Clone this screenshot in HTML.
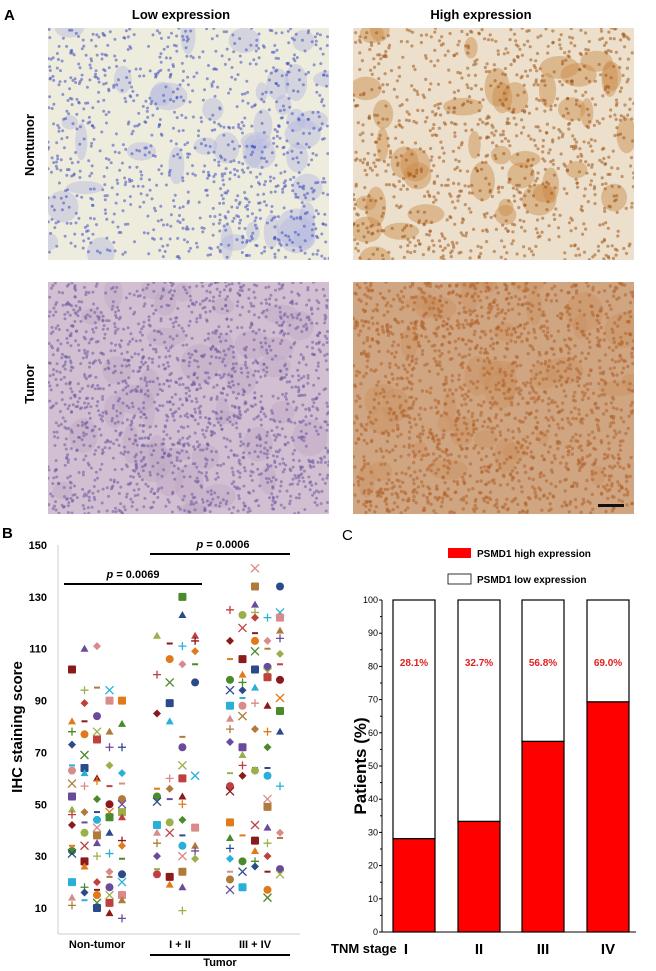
<!DOCTYPE html>
<html><head><meta charset="utf-8"><style>
body{margin:0;background:#fff;width:656px;height:971px;overflow:hidden;font-family:"Liberation Sans",Arial,sans-serif}
svg{position:absolute;left:0;top:0}
</style></head><body>
<svg id="fig" width="656" height="971" viewBox="0 0 656 971">
<defs id="defs"></defs>
<text x="4" y="20" font-size="15" font-weight="bold">A</text>
<text x="181" y="19" font-size="13" font-weight="bold" text-anchor="middle">Low expression</text>
<text x="481" y="19" font-size="13" font-weight="bold" text-anchor="middle">High expression</text>
<text transform="translate(34,145) rotate(-90)" font-size="13" font-weight="bold" text-anchor="middle">Nontumor</text>
<text transform="translate(34,384) rotate(-90)" font-size="13" font-weight="bold" text-anchor="middle">Tumor</text>
<g id="imgs"></g>
<rect x="598" y="504" width="26" height="3" fill="#111"/>

<text x="2" y="538" font-size="15" font-weight="bold">B</text>
<g id="chartB"></g>
<text x="342" y="540" font-size="15">C</text>
<g id="chartC"></g>
</svg>
<script>
const NS="http://www.w3.org/2000/svg";
function mk(t,a,p){const e=document.createElementNS(NS,t);for(const k in a)e.setAttribute(k,a[k]);p.appendChild(e);return e;}
// ---- histology images (textures) ----
let seed=7;function rnd(){seed=(seed*16807)%2147483647;return seed/2147483647;}
const imgs=document.getElementById('imgs');
const defs=document.getElementById('defs');
const panels=[
 {x:48,y:28,w:281,h:232,bg:"#eeecdc",dots:"#3f4fc0",n:1000,r:1.5,blob:"#b4b8e0",bo:0.45,name:"nontumor-low-image"},
 {x:353,y:28,w:281,h:232,bg:"#ecdfcb",dots:"#a0561a",n:1000,r:1.6,blob:"#c98a45",bo:0.45,name:"nontumor-high-image"},
 {x:48,y:282,w:281,h:232,bg:"#d2bfd2",dots:"#6a5a9e",n:1700,r:1.5,blob:"#bba6c2",bo:0.4,name:"tumor-low-image"},
 {x:353,y:282,w:281,h:232,bg:"#d0a582",dots:"#b0632a",n:1700,r:1.7,blob:"#c88e5c",bo:0.4,name:"tumor-high-image"}];
panels.forEach((p,i)=>{
 const cp=mk('clipPath',{id:'cp'+i},defs);
 mk('rect',{x:p.x,y:p.y,width:p.w,height:p.h},cp);
 const g=mk('g',{"clip-path":`url(#cp${i})`},imgs);
 
 
 mk('rect',{x:p.x,y:p.y,width:p.w,height:p.h,fill:p.bg},g);
 for(let j=0;j<40;j++){mk('ellipse',{cx:p.x+rnd()*p.w,cy:p.y+rnd()*p.h,rx:6+rnd()*14,ry:6+rnd()*14,fill:p.blob,opacity:p.bo},g);}
 for(let j=0;j<p.n;j++){mk('circle',{cx:(p.x+rnd()*p.w).toFixed(1),cy:(p.y+rnd()*p.h).toFixed(1),r:p.r,fill:p.dots,opacity:0.55},g);}
});
// ---- Chart B ----
const bTicks=[10,30,50,70,90,110,130,150];
const bGroups=["Non-tumor","I + II","III + IV"];
const bCol0=[102,82,78,73,65,63,58,53,48,46,42,34,32,31,20,14,11];
const bCol1=[110,94,89,82,77,69,64,62,57,47,43,39,34,28,26,18,16,13];
const bCol2=[111,95,84,78,75,60,59,52,47,44,41,38,35,30,20,17,15,12,10];
const bCol3=[94,90,78,72,65,57,50,47,45,39,31,24,22,18,15,12,8];
const bCol4=[90,81,72,62,58,52,50,47,45,36,34,29,23,20,15,13,6];
const bCol5=[115,100,85,56,53,51,42,39,35,30,25,23];
const bCol6=[112,106,97,89,82,60,56,52,43,39,22,19];
const bCol7=[130,123,111,104,76,72,65,60,53,50,44,38,34,30,24,18,9];
const bCol8=[115,113,109,104,97,61,41,34,32,29];
const bCol9=[125,113,106,98,94,88,83,79,74,62,57,55,43,37,33,29,24,21,17];
const bCol10=[123,118,106,100,97,94,91,88,84,72,69,65,61,38,28,24,18];
const bCol11=[141,134,127,124,122,116,113,109,102,95,89,79,64,63,42,36,32,28,26];
const bCol12=[122,113,110,103,101,99,88,78,72,64,61,52,49,41,35,30,24,17,14];
const bCol13=[134,124,122,117,114,108,104,98,91,86,78,57,39,37,25,23];
const bCols=[bCol0,bCol1,bCol2,bCol3,bCol4,bCol5,bCol6,bCol7,bCol8,bCol9,bCol10,bCol11,bCol12,bCol13];
const bColGroup=[0,0,0,0,0,1,1,1,1,2,2,2,2,2];
const bColOffset=[0,1,2,3,4,0,1,2,3,0,1,2,3,4];
const bP=["p = 0.0069","p = 0.0006"];
const B=document.getElementById('chartB');
const byS=v=>908-(v-10)*(363/140);
const groupX0=[72,157,230], colStep=[12.5,12.7,12.5];
const bx=(g,o)=>groupX0[g]+o*colStep[g];
mk('line',{x1:58,y1:545,x2:58,y2:934,stroke:"#ccc","stroke-width":1},B);
mk('line',{x1:58,y1:934,x2:300,y2:934,stroke:"#ccc","stroke-width":1},B);
bTicks.forEach(t=>{const tx=mk('text',{x:47,y:byS(t)+4,"font-size":11,"font-weight":"bold","text-anchor":"end"},B);tx.textContent=t;
 
 });
const yt=mk('text',{transform:"translate(22,727) rotate(-90)","font-size":15,"font-weight":"bold","text-anchor":"middle"},B);yt.textContent="IHC staining score";


const gl=[97,180,255];
bGroups.forEach((s,i)=>{const t=mk('text',{x:gl[i],y:948,"font-size":11,"font-weight":"bold","text-anchor":"middle"},B);t.textContent=s;
 
 });
mk('line',{x1:150,y1:955,x2:290,y2:955,stroke:"#000","stroke-width":2},B);
const tt=mk('text',{x:220,y:966,"font-size":11,"font-weight":"bold","text-anchor":"middle"},B);tt.textContent="Tumor";


[[64,202,584,133],[150,290,554,223]].forEach((l,i)=>{mk('line',{x1:l[0],y1:l[2],x2:l[1],y2:l[2],stroke:"#000","stroke-width":2},B);
 const t=mk('text',{x:l[3],y:l[2]-6,"font-size":11,"font-weight":"bold","text-anchor":"middle"},B);
 t.innerHTML='<tspan font-style="italic">p</tspan>'+bP[i].slice(1);
 
 });
const colors=["#8b1a1a","#e07a1a","#4a8a2a","#2a4a8a","#2ab0d8","#d98a8a","#b07a3a","#6a4a9a","#9ab04a","#c04040"];
const shapes=["sq","ci","di","tr","x","da","pl"];
let k=0;
bCols.forEach((col,ci)=>{col.forEach(v=>{
 const x=bx(bColGroup[ci],bColOffset[ci]),y=byS(v),c=colors[k%colors.length],s=shapes[(k*3+ci)%shapes.length];k++;
 let e;
 if(s=="sq")e=mk('rect',{x:x-4,y:y-4,width:8,height:8,fill:c,rx:1},B);
 else if(s=="ci")e=mk('circle',{cx:x,cy:y,r:4,fill:c},B);
 else if(s=="di")e=mk('path',{d:`M${x} ${y-4}L${x+4} ${y}L${x} ${y+4}L${x-4} ${y}Z`,fill:c},B);
 else if(s=="tr")e=mk('path',{d:`M${x} ${y-4}L${x+4} ${y+3}L${x-4} ${y+3}Z`,fill:c},B);
 else if(s=="x")e=mk('path',{d:`M${x-4} ${y-4}L${x+4} ${y+4}M${x+4} ${y-4}L${x-4} ${y+4}`,stroke:c,"stroke-width":1.3},B);
 else if(s=="da")e=mk('rect',{x:x-3,y:y-1,width:6,height:2,fill:c},B);
 else e=mk('path',{d:`M${x-4} ${y}L${x+4} ${y}M${x} ${y-4}L${x} ${y+4}`,stroke:c,"stroke-width":1.3},B);
 
 
});});
// ---- Chart C ----
const cStages=["I","II","III","IV"];
const cHigh=[28.1,33.3,57.4,69.3];
const cLabels=["28.1%","32.7%","56.8%","69.0%"];
const cTicks=[0,10,20,30,40,50,60,70,80,90,100];
const C=document.getElementById('chartC');
const cy=v=>932-v*3.32;
const cxs=[393,458,522,587],bw=42;
mk('line',{x1:382,y1:600,x2:382,y2:932,stroke:"#000","stroke-width":1},C);
mk('line',{x1:382,y1:932,x2:636,y2:932,stroke:"#000","stroke-width":1},C);
cTicks.forEach(t=>{mk('line',{x1:379,y1:cy(t),x2:382,y2:cy(t),stroke:"#000"},C);
 if(t<100)mk('line',{x1:380,y1:cy(t+5),x2:382,y2:cy(t+5),stroke:"#000"},C);
 const tx=mk('text',{x:378,y:cy(t)+3,"font-size":9,"text-anchor":"end"},C);tx.textContent=t;
 
 });
const ct=mk('text',{transform:"translate(366,766) rotate(-90)","font-size":17,"font-weight":"bold","text-anchor":"middle"},C);ct.textContent="Patients (%)";


cStages.forEach((s,i)=>{
 const x=cxs[i];
 const lo=mk('rect',{x:x,y:cy(100),width:bw,height:cy(cHigh[i])-cy(100),fill:"#fff",stroke:"#000","stroke-width":1.2},C);
 
 
 const hi=mk('rect',{x:x,y:cy(cHigh[i]),width:bw,height:cy(0)-cy(cHigh[i]),fill:"#ff0000",stroke:"#000","stroke-width":1.2},C);
 
 
 const l=mk('text',{x:x+bw/2,y:666,"font-size":10,"font-weight":"bold",fill:"#e02020","text-anchor":"middle"},C);l.textContent=cLabels[i];
 
 
 const sl=mk('text',{x:x+bw/2-(i==0?8:0),y:954,"font-size":15,"font-weight":"bold","text-anchor":"middle"},C);sl.textContent=s;
 
 
});
const tn=mk('text',{x:331,y:953,"font-size":13,"font-weight":"bold"},C);tn.textContent="TNM stage";


const l1=mk('rect',{x:448,y:548,width:23,height:10,fill:"#ff0000"},C);


const l1t=mk('text',{x:477,y:557,"font-size":10,"font-weight":"bold"},C);l1t.textContent="PSMD1 high expression";


const l2=mk('rect',{x:448,y:574,width:23,height:10,fill:"#fff",stroke:"#000","stroke-width":0.8},C);


const l2t=mk('text',{x:477,y:583,"font-size":10,"font-weight":"bold"},C);l2t.textContent="PSMD1 low expression";


</script>
</body></html>
